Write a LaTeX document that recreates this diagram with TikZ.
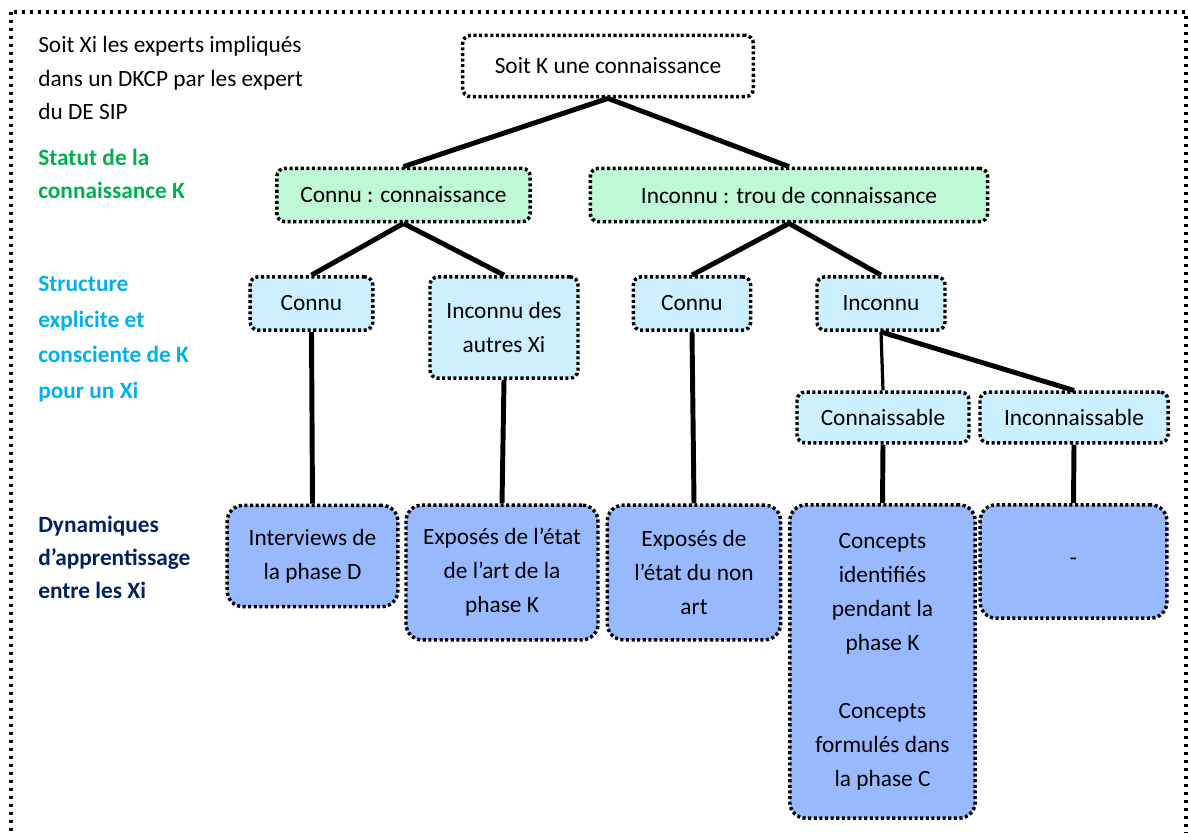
\documentclass[tikz,border=0pt]{standalone}
\usepackage{fontspec}
\setmainfont{Carlito}
\usepackage{xcolor}
\usepackage{tikz}

\definecolor{statgreen}{RGB}{0,176,80}
\definecolor{structblue}{RGB}{0,176,240}
\definecolor{dynnavy}{RGB}{0,32,96}
\definecolor{greenfill}{RGB}{190,248,212}
\definecolor{lightfill}{RGB}{204,240,255}
\definecolor{bluefill}{RGB}{153,185,255}

\begin{document}
\begin{tikzpicture}[x=0.75pt,y=-0.75pt,
    font=\fontsize{17.5}{25.5}\selectfont,
    dotbox/.style={draw,line width=2.6pt,dash pattern=on 2.3pt off 1.9pt,
      rounded corners=6pt,inner sep=0pt,align=center},
    topbox/.style={dotbox,fill=white},
    statbox/.style={dotbox,fill=greenfill},
    structbox/.style={dotbox,fill=lightfill},
    dynbox/.style={dotbox,fill=bluefill,rounded corners=12pt},
    tree/.style={line width=3.7pt},
    rowlabel/.style={anchor=west,align=left,inner sep=0pt,font=\fontsize{17.5}{24.8}\selectfont\bfseries}]
  \useasboundingbox (0,0) rectangle (1188,832);
  \clip (0,0) rectangle (1188,832);
  \draw[line width=2.6pt,dash pattern=on 2.4pt off 3.6pt] (11,12) rectangle (1186,880);

  % row labels
  \node[rowlabel,font=\fontsize{17.5}{24.8}\selectfont] (intro) at (38,78)
    {Soit Xi les experts impliqués\\dans un DKCP par les expert\\du DE SIP};
  \node[rowlabel,text=statgreen] (lstat) at (38,174) {Statut de la\\connaissance K};
  \node[rowlabel,text=structblue,font=\fontsize{17.5}{26.6}\selectfont\bfseries] (lstruct) at (38,339)
    {Structure\\explicite et\\consciente de K\\pour un Xi};
  \node[rowlabel,text=dynnavy] (ldyn) at (38,557) {Dynamiques\\d’apprentissage\\entre les Xi};

  % tree
  \node[topbox,minimum width=218pt,minimum height=46pt] (top) at (608,66) {Soit K une connaissance};

  \node[statbox,minimum width=190pt,minimum height=40pt] (connu) at (403.5,195) {Connu : connaissance};
  \node[statbox,minimum width=298pt,minimum height=40pt] (trou) at (789,195) {Inconnu : trou de connaissance};

  \node[structbox,minimum width=92pt,minimum height=40pt] (connuA) at (311.5,303.5) {Connu};
  \node[structbox,minimum width=111pt,minimum height=76pt] (autres) at (504,327.5) {Inconnu des\\autres Xi};
  \node[structbox,minimum width=88pt,minimum height=40pt] (connuB) at (692,303.5) {Connu};
  \node[structbox,minimum width=96pt,minimum height=40pt] (inconnu) at (881,303.5) {Inconnu};
  \node[structbox,minimum width=129pt,minimum height=38pt] (connaiss) at (883,417.5) {Connaissable};
  \node[structbox,minimum width=141pt,minimum height=38pt] (inconnaiss) at (1074,417.5) {Inconnaissable};

  \node[dynbox,minimum width=128pt,minimum height=76pt] (interv) at (312.5,556) {Interviews de\\la phase D};
  \node[dynbox,minimum width=144pt,minimum height=101pt] (exposK) at (502,572.5) {Exposés de l’état\\de l’art de la\\phase K};
  \node[dynbox,minimum width=130pt,minimum height=101pt] (exposN) at (694,572.5) {Exposés de\\l’état du non\\art};
  \node[dynbox,minimum width=139pt,minimum height=235pt] (concepts) at (882.5,661.5)
    {Concepts\\identifiés\\pendant la\\phase K\\[25.5pt]Concepts\\formulés dans\\la phase C};
  \node[dynbox,minimum width=140pt,minimum height=85pt] (vide) at (1073.5,561.5) {\raisebox{-4pt}{-}};

  \draw[tree] (top.south) -- (connu.north);
  \draw[tree] (top.south) -- (trou.north);
  \draw[tree] (connu.south) -- (connuA.north);
  \draw[tree] (connu.south) -- (autres.north);
  \draw[tree] (trou.south) -- (connuB.north);
  \draw[tree] (trou.south) -- (inconnu.north);
  \draw[line width=2.4pt] (inconnu.south) -- (connaiss.north);
  \draw[tree] (inconnu.south) -- (inconnaiss.north);
  \foreach \a/\b in {connuA/interv,autres/exposK,connuB/exposN,connaiss/concepts,inconnaiss/vide} {
    \draw[tree] (\a.south) -- (\b.north);
  }
\end{tikzpicture}
\end{document}
